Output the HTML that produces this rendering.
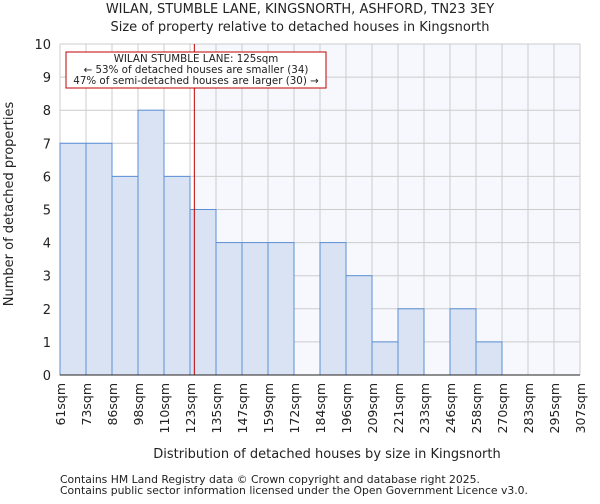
<!DOCTYPE html>
<html><head><meta charset="utf-8"><style>
body{margin:0;background:#fff;font-family:"DejaVu Sans","Liberation Sans",sans-serif;}
svg text{font-family:"DejaVu Sans","Liberation Sans",sans-serif;fill:#222;}
</style></head><body>
<svg id="c" width="600" height="500">
<text x="300" y="13" font-size="13" text-anchor="middle">WILAN, STUMBLE LANE, KINGSNORTH, ASHFORD, TN23 3EY</text>
<text x="300" y="31" font-size="13" text-anchor="middle">Size of property relative to detached houses in Kingsnorth</text>
<g id="plot"></g>
<text x="327" y="458" font-size="13" text-anchor="middle">Distribution of detached houses by size in Kingsnorth</text>
<text transform="translate(13,204) rotate(-90)" font-size="13" text-anchor="middle">Number of detached properties</text>
<text x="60" y="483" font-size="10.8" fill="#444">Contains HM Land Registry data © Crown copyright and database right 2025.</text>
<text x="60" y="494" font-size="10.8" fill="#444">Contains public sector information licensed under the Open Government Licence v3.0.</text>
</svg>
<script>
const categories=["61sqm","73sqm","86sqm","98sqm","110sqm","123sqm","135sqm","147sqm","159sqm","172sqm","184sqm","196sqm","209sqm","221sqm","233sqm","246sqm","258sqm","270sqm","283sqm","295sqm","307sqm"];
const binStarts=[61,73,86,98,110,123,135,147,159,172,184,196,209,221,233,246,258,270,283,295,307];
const counts=[7,7,6,8,6,5,4,4,4,0,4,3,1,2,0,2,1,0,0,0];
const yTicks=[0,1,2,3,4,5,6,7,8,9,10];
const propertySize=125;
const NS="http://www.w3.org/2000/svg";
const g=document.getElementById('plot');
const X0=60,X1=580,Y0=375,Y1=44;
const bw=(X1-X0)/counts.length;
const xb=i=>X0+i*bw;
const y=v=>Y0-(v/10)*(Y0-Y1);
function xs(v){let i=0;while(i<binStarts.length-2&&v>=binStarts[i+1])i++;return xb(i)+(v-binStarts[i])/(binStarts[i+1]-binStarts[i])*bw;}
function mk(t,a){const e=document.createElementNS(NS,t);for(const k in a)e.setAttribute(k,a[k]);g.appendChild(e);return e;}
const px=xs(propertySize);
let e=mk('rect',{x:px,y:Y1,width:X1-px,height:Y0-Y1,fill:'#f6f8fd'});


yTicks.forEach(t=>{const l=mk('line',{x1:X0,x2:X1,y1:y(t),y2:y(t),stroke:'#cccccc'});


const tx=mk('text',{x:X0-9,y:y(t)+5,'font-size':13,'text-anchor':'end'});tx.textContent=t;

});
categories.forEach((c,i)=>{const l=mk('line',{x1:xb(i),x2:xb(i),y1:Y1,y2:Y0,stroke:'#cccccc'});


const tx=mk('text',{transform:`translate(${xb(i)+5},${Y0+8}) rotate(-90)`,'font-size':12.5,'text-anchor':'end'});tx.textContent=c;

});
counts.forEach((v,i)=>{if(!v)return;const r=mk('rect',{x:xb(i),y:y(v),width:bw,height:Y0-y(v),fill:'#dae3f3',stroke:'#5b8fd6','stroke-width':1});

});
e=mk('line',{x1:px,x2:px,y1:Y1,y2:Y0,stroke:'#c00000','stroke-width':1});


e=mk('rect',{x:66,y:52,width:260,height:36,fill:'#fff',stroke:'#c00000','stroke-width':1});


["WILAN STUMBLE LANE: 125sqm","← 53% of detached houses are smaller (34)","47% of semi-detached houses are larger (30) →"].forEach((s,i)=>{const t=mk('text',{x:196,y:62+i*11,'font-size':10.3,'text-anchor':'middle'});t.textContent=s;

});
e=mk('line',{x1:X0,x2:X1,y1:Y0,y2:Y0,stroke:'#222'});


</script>
</body></html>
